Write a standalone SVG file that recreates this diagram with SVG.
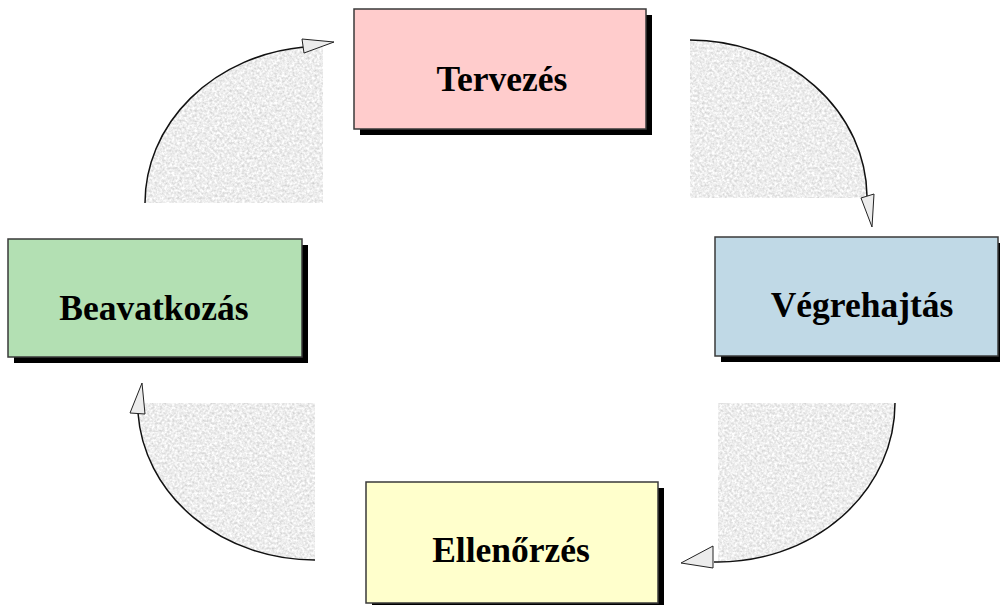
<svg xmlns="http://www.w3.org/2000/svg" width="1000" height="605" viewBox="0 0 1000 605">
<style>
.box{stroke:#3a3a3a;stroke-width:1.5}
.shadow{fill:#000}
.lbl{font-family:"Liberation Serif","Times New Roman",serif;font-weight:bold;font-size:35.5px;fill:#000;text-anchor:middle}
.area{fill:#ebebeb;filter:url(#grain)}
.arc{fill:none;stroke:#111;stroke-width:1.5}
.head{fill:#ececec;stroke:#222;stroke-width:1}
</style>
<defs>
<filter id="grain" x="0" y="0" width="100%" height="100%" color-interpolation-filters="sRGB">
<feTurbulence type="fractalNoise" baseFrequency="0.4" numOctaves="2" seed="7" result="n"/>
<feColorMatrix in="n" type="matrix" values="0.3 0 0 0 0.78  0.3 0 0 0 0.78  0.3 0 0 0 0.78  0 0 0 0 1" result="g"/>
<feComposite in="g" in2="SourceGraphic" operator="in"/>
</filter>
</defs>
<g id="connectors">
<g id="arc-top-right">
<path class="area" d="M690,40 A177,158 0 0 1 867,198 L690,198 Z"/>
<path class="arc" d="M690,40 A177,158 0 0 1 867,196"/>
<polygon class="head" points="861,198 874,194 872,227"/>
</g>
<g id="arc-bottom-right">
<path class="area" d="M718,403 L895,403 A177,159 0 0 1 718,562 Z"/>
<path class="arc" d="M895,403 A177,159 0 0 1 714,562"/>
<polygon class="head" points="713,546 713,568 681,563"/>
</g>
<g id="arc-bottom-left">
<path class="area" d="M315,403 L315,560 A177,157 0 0 1 138,403 Z"/>
<path class="arc" d="M315,560 A177,157 0 0 1 138,413"/>
<polygon class="head" points="130,413 145,414 142,383"/>
</g>
<g id="arc-top-left">
<path class="area" d="M145,203 A178,157 0 0 1 323,46 L323,203 Z"/>
<path class="arc" d="M145,203 A178,157 0 0 1 304,47"/>
<polygon class="head" points="302,39 304,53 334,42"/>
</g>
</g>
<g id="node-tervezes">
<rect class="shadow" x="360" y="15" width="292" height="120"/>
<rect class="box" x="354" y="9" width="292" height="120" fill="#ffcccc"/>
<text class="lbl" x="502" y="91">Tervezés</text>
</g>
<g id="node-vegrehajtas">
<rect class="shadow" x="721" y="243" width="290" height="119"/>
<rect class="box" x="715" y="237" width="283" height="119" fill="#c0d9e6"/>
<text class="lbl" x="862" y="317">Végrehajtás</text>
</g>
<g id="node-ellenorzes">
<rect class="shadow" x="372" y="488" width="292" height="122"/>
<rect class="box" x="366" y="482" width="292" height="121" fill="#ffffcc"/>
<text class="lbl" x="511" y="562">Ellenőrzés</text>
</g>
<g id="node-beavatkozas">
<rect class="shadow" x="14" y="245" width="294" height="118"/>
<rect class="box" x="8" y="239" width="294" height="118" fill="#b3e0b3"/>
<text class="lbl" x="154" y="320">Beavatkozás</text>
</g>
</svg>
